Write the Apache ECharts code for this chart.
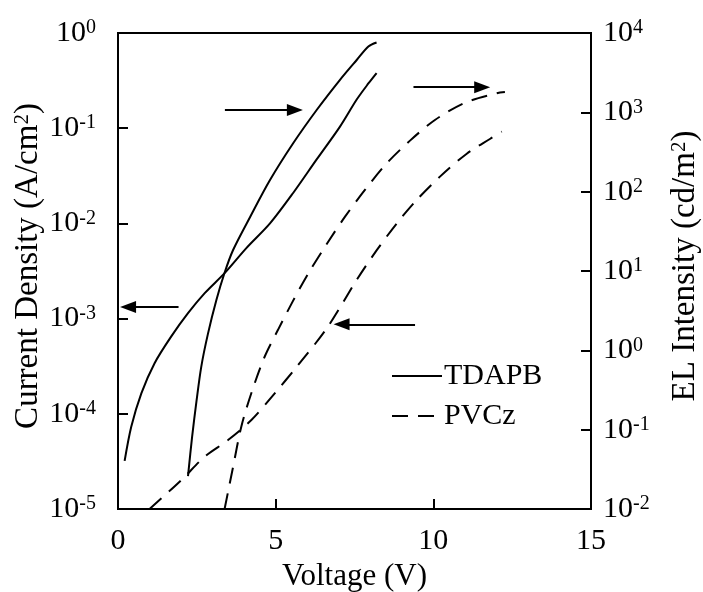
<!DOCTYPE html>
<html>
<head>
<meta charset="utf-8">
<script src="https://cdn.jsdelivr.net/npm/echarts@6/dist/echarts.min.js"></script>
<style>
  html, body { margin: 0; padding: 0; background: #fff; }
  #chart { width: 703px; height: 592px; }
</style>
</head>
<body>
<div id="chart"></div>
<script>
// TDAPB current density (left axis, A/cm2)
const tdapbJV = [0.21, 0.42, 0.74, 1.16, 1.69, 2.22, 2.75, 3.38, 4.07, 4.82, 5.56, 6.30, 7.04, 7.57, 7.94, 8.20];
const tdapbJ = [3.2e-5, 7.3e-5, 1.64e-4, 3.4e-4, 6.5e-4, 1.14e-3, 1.85e-3, 3.0e-3, 5.5e-3, 1.0e-2, 2.1e-2, 4.7e-2, 0.104, 0.20, 0.295, 0.38];
// TDAPB EL intensity (right axis, cd/m2)
const tdapbELV = [2.22, 2.35, 2.49, 2.64, 2.85, 3.12, 3.38, 3.65, 4.19, 4.82, 5.56, 6.30, 7.04, 7.57, 7.94, 8.20];
const tdapbEL = [0.026, 0.081, 0.23, 0.62, 1.6, 4.3, 9.5, 18.4, 48, 140, 410, 1070, 2570, 4570, 6760, 7590];
// PVCz current density (left axis)
const pvczJV = [1.0, 2.0, 2.75, 3.49, 4.23, 4.97, 5.66, 6.62, 7.57, 8.20, 8.84, 9.47, 10.21, 11.06, 11.82, 12.17];
const pvczJ = [1.0e-5, 2.0e-5, 3.55e-5, 5.3e-5, 8.6e-5, 1.64e-4, 3.1e-4, 7.9e-4, 2.55e-3, 5.2e-3, 1.0e-2, 1.76e-2, 3.1e-2, 5.4e-2, 7.8e-2, 9.2e-2];
// PVCz EL intensity (right axis)
const pvczELV = [3.38, 3.65, 3.91, 4.23, 4.65, 5.07, 5.55, 6.04, 6.62, 7.20, 7.83, 8.50, 9.26, 10.05, 11.0, 12.01, 12.27];
const pvczEL = [0.01, 0.034, 0.109, 0.29, 0.83, 1.8, 4.2, 9.4, 21.9, 48.4, 105, 223, 440, 800, 1320, 1740, 1800];

// arrows [x from, y from, x to, y to] in left-axis units
const arrows = [
  [1.92, 1.32e-3, 0.32, 1.32e-3],
  [3.39, 0.155, 5.61, 0.155],
  [9.37, 0.27, 11.55, 0.27],
  [9.42, 8.7e-4, 7.09, 8.7e-4]
];

const xTicks = [0, 5, 10, 15];

const serif = "Liberation Serif";
const zip = (xs, ys) => xs.map((x, i) => [x, ys[i]]);
const powLabel = v => {
  const e = Math.round(Math.log10(v));
  return "{b|10}{s|" + e + "}";
};
const supStyle = { fontSize: 20, fontFamily: serif, color: "#000", lineHeight: 6, verticalAlign: "top" };
const titleSup = { fontSize: 21, fontFamily: serif, color: "#000", lineHeight: 6, verticalAlign: "top" };
const richPow = {
  b: { fontSize: 30, fontFamily: serif, color: "#000", lineHeight: 30 },
  s: supStyle
};

const chart = echarts.init(document.getElementById("chart"));
const option = {
  animation: false,
  grid: {
    left: 118, right: 112, top: 33, bottom: 83,
    outerBoundsMode: "none",
    containLabel: false,
    show: true, borderColor: "#000", borderWidth: 2
  },
  legend: {
    orient: "vertical",
    left: 386,
    top: 356,
    data: ["TDAPB", "PVCz"],
    itemWidth: 50,
    itemHeight: 14,
    itemGap: 10,
    itemStyle: { opacity: 0 },
    textStyle: { fontFamily: serif, fontSize: 30, color: "#000", padding: [0, 0, 0, -3] }
  },
  xAxis: {
    type: "value",
    min: 0, max: 15, interval: 5,
    name: "Voltage (V)",
    nameLocation: "middle",
    nameGap: 51,
    nameTextStyle: { fontFamily: serif, fontSize: 31, color: "#000" },
    axisLine: { lineStyle: { color: "#000", width: 2 } },
    axisTick: { inside: true, length: 10, lineStyle: { width: 2 } },
    axisLabel: {
      margin: 17,
      fontFamily: serif, fontSize: 30, color: "#000",
      formatter: v => (xTicks.includes(v) ? String(v) : "")
    },
    splitLine: { show: false }
  },
  yAxis: [
    {
      type: "log",
      logBase: 10,
      min: 1e-5, max: 1,
      position: "left",
      name: "Current Density (A/cm{s|2})",
      nameLocation: "middle",
      nameRotate: 90,
      nameGap: 73,
      nameMoveOverlap: false,
      nameTextStyle: {
        fontFamily: serif, fontSize: 33, color: "#000",
        padding: [0, 0, 0, 10],
        rich: { s: titleSup }
      },
      axisLine: { show: true, lineStyle: { color: "#000", width: 2 } },
      axisTick: { inside: true, length: 10, lineStyle: { width: 2 } },
      axisLabel: { margin: 22, formatter: powLabel, rich: richPow },
      splitLine: { show: false },
      minorTick: { show: false }
    },
    {
      type: "log",
      logBase: 10,
      min: 1e-2, max: 1e4,
      splitNumber: 6,
      position: "right",
      name: "EL Intensity (cd/m{s|2})",
      nameLocation: "middle",
      nameRotate: 90,
      nameGap: 78,
      nameTextStyle: {
        fontFamily: serif, fontSize: 33, color: "#000",
        padding: [0, 0, 0, 10],
        rich: { s: titleSup }
      },
      axisLine: { show: true, lineStyle: { color: "#000", width: 2 } },
      axisTick: { inside: true, length: 10, lineStyle: { width: 2 } },
      axisLabel: { margin: 12, formatter: powLabel, rich: richPow },
      splitLine: { show: false }
    }
  ],
  series: [
    {
      name: "TDAPB",
      type: "line",
      yAxisIndex: 0,
      smooth: 0.3,
      symbol: "none",
      lineStyle: { color: "#000", width: 2 },
      itemStyle: { color: "#000" },
      data: zip(tdapbJV, tdapbJ),
      markLine: {
        silent: true,
        symbol: ["none", "triangle"],
        symbolSize: [12, 16],
        label: { show: false },
        lineStyle: { color: "#000", width: 2, type: "solid" },
        data: arrows.map(a => [{ coord: [a[0], a[1]] }, { coord: [a[2], a[3]] }])
      }
    },
    {
      name: "TDAPB",
      type: "line",
      yAxisIndex: 1,
      smooth: 0.3,
      symbol: "none",
      lineStyle: { color: "#000", width: 2 },
      itemStyle: { color: "#000" },
      data: zip(tdapbELV, tdapbEL)
    },
    {
      name: "PVCz",
      type: "line",
      yAxisIndex: 0,
      smooth: 0.3,
      symbol: "none",
      lineStyle: { color: "#000", width: 2, type: [16, 10] },
      itemStyle: { color: "#000" },
      data: zip(pvczJV, pvczJ)
    },
    {
      name: "PVCz",
      type: "line",
      yAxisIndex: 1,
      smooth: 0.3,
      symbol: "none",
      lineStyle: { color: "#000", width: 2, type: [16, 10] },
      itemStyle: { color: "#000" },
      data: zip(pvczELV, pvczEL)
    }
  ]
};
chart.setOption(option);
</script>
</body>
</html>
